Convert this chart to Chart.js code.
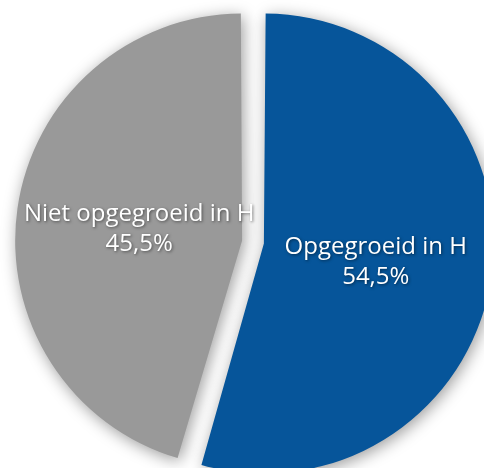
<!DOCTYPE html>
<html>
<head>
  <script src="https://cdn.jsdelivr.net/npm/chart.js"></script>
  <style>
    html, body { margin: 0; padding: 0; background: #fff; overflow: hidden; }
    #wrap { width: 484px; height: 468px; }
  </style>
</head>
<body>
  <div id="wrap"><canvas id="pie" width="484" height="468"></canvas></div>
  <script>
    const labels = ["Opgegroeid in H", "Niet opgegroeid in H"];
    const values = [54.5, 45.5];
    const colors = ["#06559a", "#999999"];

    // soft drop shadow under the slices
    const shadowPlugin = {
      id: 'shadow',
      beforeDatasetDraw(chart) {
        const ctx = chart.ctx;
        ctx.save();
        ctx.shadowColor = 'rgba(0,0,0,0.4)';
        ctx.shadowBlur = 16;
        ctx.shadowOffsetX = 2;
        ctx.shadowOffsetY = 3;
      },
      afterDatasetDraw(chart) {
        chart.ctx.restore();
      }
    };

    // label text inside each slice, along its bisector
    const labelPlugin = {
      id: 'sliceLabels',
      afterDatasetsDraw(chart) {
        const ctx = chart.ctx;
        const meta = chart.getDatasetMeta(0);
        const dist = [124, 115];
        ctx.save();
        ctx.font = '24px "Open Sans", Lato, sans-serif';
        ctx.fillStyle = '#fff';
        ctx.textAlign = 'center';
        ctx.textBaseline = 'alphabetic';
        ctx.shadowColor = 'rgba(0,0,0,0.5)';
        ctx.shadowBlur = 3;
        ctx.shadowOffsetX = 1;
        ctx.shadowOffsetY = 1;
        meta.data.forEach((arc, i) => {
          const mid = (arc.startAngle + arc.endAngle) / 2;
          const x = arc.x + Math.cos(mid) * dist[i];
          const y = arc.y + Math.sin(mid) * dist[i];
          const pct = values[i].toFixed(1).replace('.', ',') + '%';
          ctx.fillText(labels[i], x, y - 5);
          ctx.fillText(pct, x, y + 25);
        });
        ctx.restore();
      }
    };

    new Chart(document.getElementById('pie'), {
      type: 'pie',
      data: {
        labels: labels,
        datasets: [{
          data: values,
          backgroundColor: colors,
          borderWidth: 0,
          offset: 44
        }]
      },
      options: {
        responsive: false,
        animation: false,
        radius: 219,
        layout: { padding: { left: 22, top: 16, right: 0, bottom: 0 } },
        plugins: {
          legend: { display: false },
          tooltip: { enabled: false }
        }
      },
      plugins: [shadowPlugin, labelPlugin]
    });
  </script>
</body>
</html>
